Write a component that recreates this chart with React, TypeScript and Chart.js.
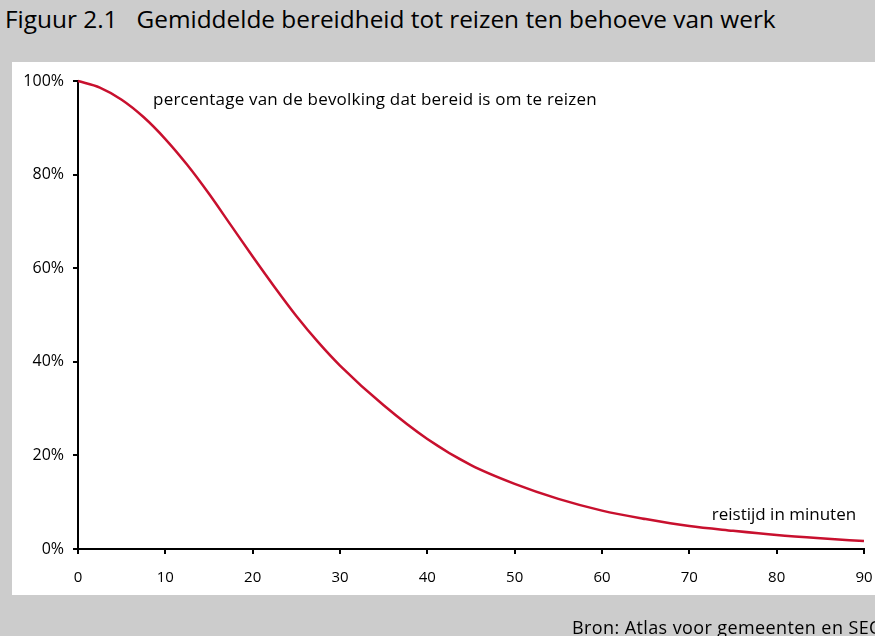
import React, { useEffect, useRef } from 'react';
import { Chart, registerables } from 'chart.js';

Chart.register(...registerables);

const minutes = [0, 2.5, 5, 7.5, 10, 12.5, 15, 17.5, 20, 22.5, 25, 27.5, 30, 35, 40, 45, 50, 55, 60, 65, 70, 75, 80, 85, 90];
const percentages = [100, 98.6, 96.0, 92.3, 87.6, 82.1, 75.9, 69.2, 62.5, 56.0, 49.8, 44.2, 39.2, 30.7, 23.5, 17.9, 13.9, 10.7, 8.2, 6.4, 4.9, 3.9, 3.0, 2.3, 1.7];
const xTickValues = [0, 10, 20, 30, 40, 50, 60, 70, 80, 90];
const yTickValues = [0, 20, 40, 60, 80, 100];

const titleText = 'Figuur 2.1\u00a0\u00a0\u00a0Gemiddelde bereidheid tot reizen ten behoeve van werk';
const curveLabel = 'percentage van de bevolking dat bereid is om te reizen';
const axisLabel = 'reistijd in minuten';
const sourceText = 'Bron: Atlas voor gemeenten en SEO';

const FONT = '"Open Sans", "Noto Sans", sans-serif';

export default function App() {
  const ref = useRef<HTMLCanvasElement | null>(null);

  useEffect(() => {
    const canvas = ref.current;
    if (!canvas) return;

    const labelPlugin = {
      id: 'labels',
      afterDraw(chart: any) {
        const ctx = chart.ctx;
        const xs = chart.scales.x;
        const ys = chart.scales.y;
        ctx.save();
        ctx.fillStyle = '#000';
        ctx.font = `17px ${FONT}`;
        ctx.textBaseline = 'middle';
        ctx.textAlign = 'left';
        (ctx as any).letterSpacing = '0.2px';
        ctx.fillText(curveLabel, xs.getPixelForValue(8.6), ys.getPixelForValue(95.9));
        ctx.textAlign = 'right';
        (ctx as any).letterSpacing = '0px';
        ctx.fillText(axisLabel, xs.getPixelForValue(89.1), ys.getPixelForValue(7.3));
        ctx.restore();
      },
    };

    const chart = new Chart(canvas, {
      type: 'line',
      data: {
        datasets: [
          {
            data: minutes.map((m, i) => ({ x: m, y: percentages[i] })),
            borderColor: '#c8102e',
            borderWidth: 2.5,
            pointRadius: 0,
            cubicInterpolationMode: 'monotone',
            fill: false,
            clip: false as any,
          },
        ],
      },
      options: {
        animation: false,
        responsive: false,
        maintainAspectRatio: false,
        layout: { padding: { left: 12, right: 11, top: 81, bottom: 0 } },
        plugins: { legend: { display: false }, tooltip: { enabled: false } },
        scales: {
          x: {
            type: 'linear',
            min: 0,
            max: 90,
            afterBuildTicks: (s: any) => {
              s.ticks = xTickValues.map((v) => ({ value: v }));
            },
            afterFit: (s: any) => {
              s.height = 87;
              s.paddingLeft = 0;
              s.paddingRight = 0;
            },
            grid: { drawOnChartArea: false, drawTicks: true, tickLength: 5, color: '#000', lineWidth: 2 },
            border: { color: '#000', width: 2 },
            ticks: { padding: 15, color: '#000', font: { family: FONT, size: 15 }, maxRotation: 0, autoSkip: false },
          },
          y: {
            type: 'linear',
            min: 0,
            max: 100,
            afterBuildTicks: (s: any) => {
              s.ticks = yTickValues.map((v) => ({ value: v }));
            },
            afterFit: (s: any) => {
              s.width = 66;
              s.paddingTop = 0;
              s.paddingBottom = 0;
            },
            grid: { drawOnChartArea: false, drawTicks: true, tickLength: 5, color: '#000', lineWidth: 2 },
            border: { color: '#000', width: 2 },
            ticks: {
              padding: 9,
              color: '#000',
              font: { family: FONT, size: 16 },
              callback: (v: any) => `${v}%`,
            },
          },
        },
      },
      plugins: [labelPlugin],
    });
    return () => chart.destroy();
  }, []);

  return (
    <div style={{ position: 'fixed', left: 0, top: 0, width: 875, height: 636, background: '#cccccc', overflow: 'hidden' }}>
      <div style={{ position: 'absolute', left: 5, top: 4, fontFamily: FONT, fontSize: 24.4, color: '#000', whiteSpace: 'nowrap', lineHeight: '30px' }}>
        {titleText}
      </div>
      <div style={{ position: 'absolute', left: 12, top: 62, width: 875, height: 533, background: '#ffffff' }} />
      <canvas ref={ref} width={875} height={636} style={{ position: 'absolute', left: 0, top: 0, display: 'block' }} />
      <div style={{ position: 'absolute', left: 572, top: 616, fontFamily: FONT, fontSize: 18, letterSpacing: 0.4, color: '#000', whiteSpace: 'nowrap', lineHeight: '22px' }}>
        {sourceText}
      </div>
    </div>
  );
}
